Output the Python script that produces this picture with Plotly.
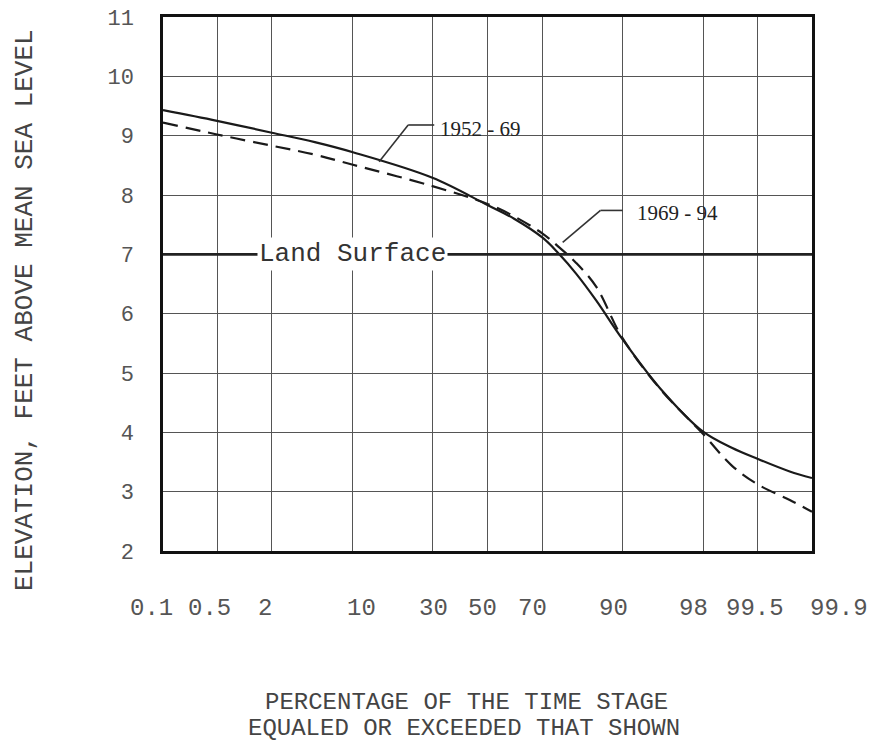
import plotly.graph_objects as go
from statistics import NormalDist

# ---------------- data ----------------
pct = [0.1, 0.5, 2, 5, 10, 30, 50, 60, 70, 75, 80, 85, 90, 95, 98, 99, 99.5, 99.8, 99.9]
elev_1952_69 = [9.43, 9.25, 9.05, 8.89, 8.72, 8.29, 7.83, 7.60, 7.28, 7.02, 6.68, 6.22, 5.58, 4.74, 4.01, 3.74, 3.55, 3.34, 3.23]
elev_1969_94 = [9.22, 9.02, 8.83, 8.68, 8.51, 8.15, 7.85, 7.64, 7.35, 7.13, 6.86, 6.45, 5.60, 4.73, 3.97, 3.44, 3.12, 2.86, 2.66]

x_tick_pct = [0.1, 0.5, 2, 10, 30, 50, 70, 90, 98, 99.5, 99.9]
x_tick_text = ["0.1", "0.5", "2", "10", "30", "50", "70", "90", "98", "99.5", "99.9"]
y_ticks = list(range(2, 12))

land_surface = 7.0

# leader lines: (percent, elevation) polylines and label anchor
leader_1952 = [(15.1, 8.56), (22.5, 9.18), (30.6, 9.18)]
label_1952 = (32.0, 9.12, "1952 - 69")
leader_1969 = [(76.3, 7.20), (85.9, 7.74), (90.1, 7.74)]
label_1969 = (92.0, 7.70, "1969 - 94")

# style: horizontal nudges (px) of the typed x tick labels, as in the original
tick_label_shift = [-12, -8, -7, 9, 1, -5, -10, -9, -10, -3, 27]

# ---------------- helpers ----------------
nd = NormalDist()


def z(p):
    return nd.inv_cdf(p / 100.0)


zx = [z(p) for p in pct]
zmin, zmax = z(0.1), z(99.9)

MONO = "Liberation Mono"
SERIF = "Liberation Serif"

fig = go.Figure()

fig.add_trace(go.Scatter(
    x=zx, y=elev_1952_69, mode="lines", name="1952 - 69",
    line=dict(color="#1a1a1a", width=2.2, shape="spline", smoothing=1.0),
    hoverinfo="skip"))
fig.add_trace(go.Scatter(
    x=zx, y=elev_1969_94, mode="lines", name="1969 - 94",
    line=dict(color="#1a1a1a", width=2.2, dash="15px,8px", shape="spline", smoothing=1.0),
    hoverinfo="skip"))

shapes = []
# land surface line (heavier)
shapes.append(dict(type="line", xref="paper", x0=0, x1=1, yref="y", y0=land_surface, y1=land_surface,
                   line=dict(color="#222", width=2.6), layer="above"))
# leader lines
for leader in (leader_1952, leader_1969):
    for (p0, e0), (p1, e1) in zip(leader[:-1], leader[1:]):
        shapes.append(dict(type="line", xref="x", yref="y", x0=z(p0), y0=e0, x1=z(p1), y1=e1,
                           line=dict(color="#333", width=1.6), layer="above"))

annotations = []
annotations.append(dict(x=z(10), y=land_surface, xref="x", yref="y", text="Land Surface",
                        showarrow=False, font=dict(family=MONO, size=26, color="#333"),
                        bgcolor="white", borderpad=1, xanchor="center", yanchor="middle"))
for (p, e, t) in (label_1952, label_1969):
    annotations.append(dict(x=z(p), y=e, xref="x", yref="y", text=t, showarrow=False,
                            xanchor="left", yanchor="middle",
                            font=dict(family=SERIF, size=21, color="#222")))
# x tick labels (typed below the grid)
for p, t, dx in zip(x_tick_pct, x_tick_text, tick_label_shift):
    annotations.append(dict(x=z(p), y=-0.108, xref="x", yref="paper", text=t, showarrow=False,
                            xanchor="center", yanchor="middle", xshift=dx,
                            font=dict(family=MONO, size=24, color="#555")))
# axis titles
annotations.append(dict(x=-0.2135, y=0.452, xref="paper", yref="paper", textangle=-90,
                        text="ELEVATION, FEET ABOVE MEAN SEA LEVEL", showarrow=False,
                        xanchor="center", yanchor="middle",
                        font=dict(family=MONO, size=26, color="#444")))
annotations.append(dict(x=0.468, y=-0.283, xref="paper", yref="paper",
                        text="PERCENTAGE OF THE TIME STAGE", showarrow=False,
                        xanchor="center", yanchor="middle",
                        font=dict(family=MONO, size=24, color="#444")))
annotations.append(dict(x=0.464, y=-0.333, xref="paper", yref="paper",
                        text="EQUALED OR EXCEEDED THAT SHOWN", showarrow=False,
                        xanchor="center", yanchor="middle",
                        font=dict(family=MONO, size=24, color="#444")))

fig.update_layout(
    width=877, height=747,
    margin=dict(l=155, r=73, t=9, b=204, autoexpand=False),
    paper_bgcolor="white", plot_bgcolor="white",
    showlegend=False,
    shapes=shapes, annotations=annotations,
    xaxis=dict(range=[zmin, zmax], tickmode="array",
               tickvals=[z(p) for p in x_tick_pct], ticktext=[""] * len(x_tick_pct),
               showgrid=True, gridcolor="#555", gridwidth=1.4, automargin=False,
               zeroline=False, showline=True, linecolor="#111", linewidth=2.5, mirror=True,
               ticks=""),
    yaxis=dict(range=[2, 11], tickmode="array", tickvals=y_ticks,
               ticktext=[str(v) for v in y_ticks],
               showgrid=True, gridcolor="#555", gridwidth=1.4, automargin=False,
               zeroline=False, showline=True, linecolor="#111", linewidth=2.5, mirror=True,
               ticks="", ticklabelstandoff=22, ticklabeloverflow="allow",
               tickfont=dict(family=MONO, size=22, color="#555")),
)

fig.write_html("out.html")
